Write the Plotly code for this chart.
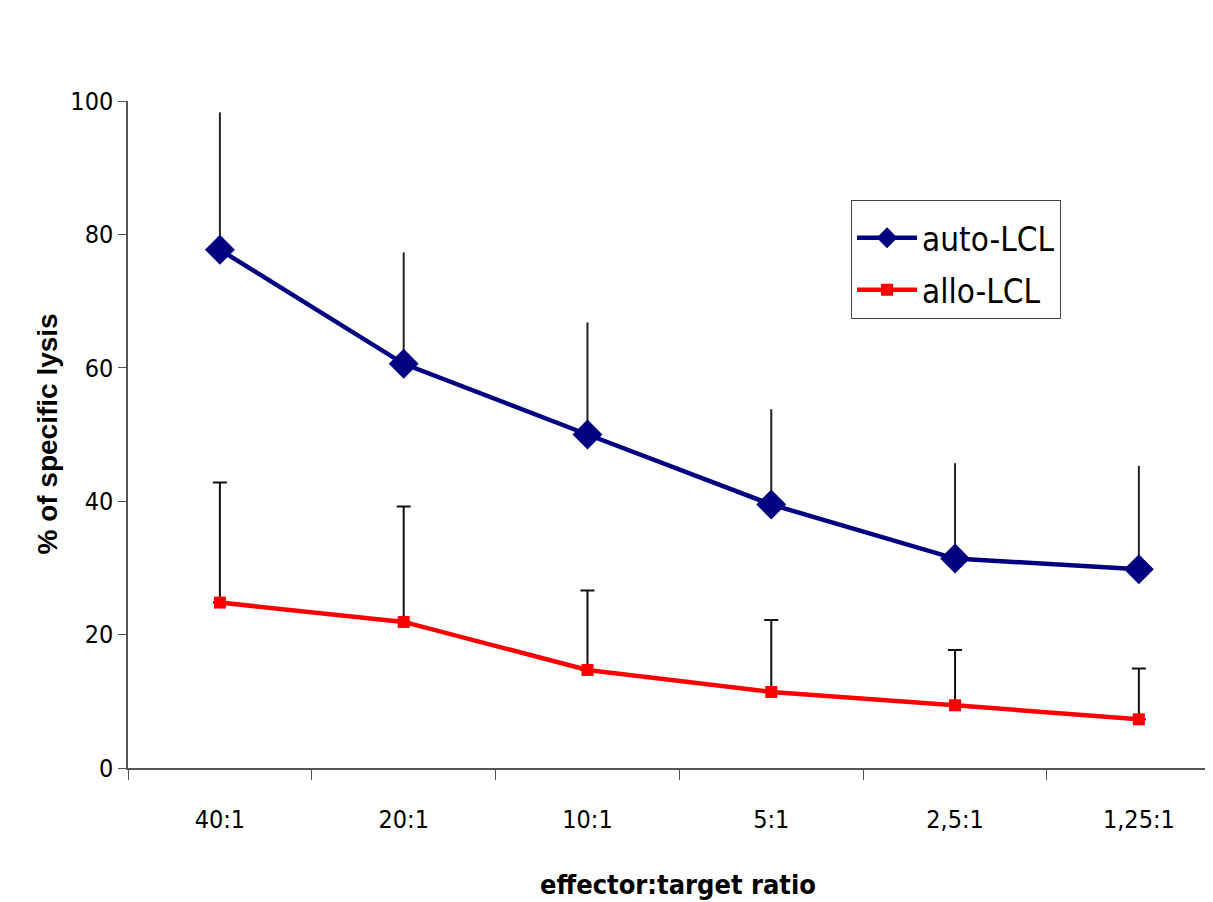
import plotly.graph_objects as go

categories = ["40:1", "20:1", "10:1", "5:1", "2,5:1", "1,25:1"]
auto_lcl = [77.7, 60.6, 50.0, 39.5, 31.4, 29.8]
auto_err = [20.6, 16.7, 16.8, 14.3, 14.3, 15.5]
allo_lcl = [24.8, 21.9, 14.7, 11.4, 9.4, 7.3]
allo_err = [18.0, 17.3, 11.9, 10.8, 8.3, 7.6]
y_ticks = [0, 20, 40, 60, 80, 100]

FONT = "Liberation Sans Narrow, Arial Narrow, DejaVu Sans Condensed, sans-serif"

fig = go.Figure()
fig.add_trace(go.Scatter(
    x=categories, y=auto_lcl, name="auto-LCL", mode="lines+markers",
    legendgroup="auto",
    line=dict(color="#000080", width=4.5),
    marker=dict(symbol="diamond", size=23, color="#000080"),
    error_y=dict(type="data", array=auto_err, arrayminus=[0] * 6, symmetric=False,
                 color="#222222", thickness=2, width=0),
))
fig.add_trace(go.Scatter(
    x=categories, y=allo_lcl, name="allo-LCL", mode="lines+markers",
    legendgroup="allo",
    line=dict(color="#ff0000", width=4.5),
    marker=dict(symbol="square", size=12, color="#ff0000"),
    error_y=dict(type="data", array=allo_err, arrayminus=[0] * 6, symmetric=False,
                 color="#111111", thickness=2, width=7),
))

fig.update_layout(
    width=1205, height=894,
    margin=dict(l=120, r=1, t=93, b=134),
    paper_bgcolor="white", plot_bgcolor="white",
    font=dict(family=FONT, size=25, color="black"),
    showlegend=True,
    legend=dict(x=0.667, y=0.852, xanchor="left", yanchor="top",
                bordercolor="#444444", borderwidth=1, bgcolor="white",
                font=dict(size=33, family=FONT), itemwidth=60,
                traceorder="grouped", tracegroupgap=6,
                title=dict(text=" ", font=dict(size=7))),
    xaxis=dict(type="category", categoryorder="array", categoryarray=categories,
               range=[-0.5, 5.398], tickson="boundaries", ticks="outside",
               ticklen=10, tickcolor="#555555", showline=True, linecolor="#555555",
               linewidth=1.5, showgrid=False, zeroline=False, ticklabelstandoff=28,
               tickfont=dict(size=25, family=FONT)),
    yaxis=dict(range=[0, 100], tickvals=y_ticks, ticks="outside", ticklen=8,
               tickcolor="#555555", showline=True, linecolor="#555555", linewidth=1.5,
               showgrid=False, zeroline=False,
               tickfont=dict(size=25, family=FONT)),
    annotations=[
        dict(text="<b>effector:target ratio</b>", xref="paper", yref="paper",
             x=0.507, y=-0.175, xanchor="center", yanchor="middle",
             showarrow=False, font=dict(size=27, family=FONT)),
        dict(text="<b>% of specific lysis</b>", xref="paper", yref="paper",
             x=-0.0747, y=0.5, xanchor="center", yanchor="middle", textangle=-90,
             showarrow=False, font=dict(size=28, family="Liberation Sans, Arial, sans-serif")),
    ],
)

fig.write_html("out.html")
